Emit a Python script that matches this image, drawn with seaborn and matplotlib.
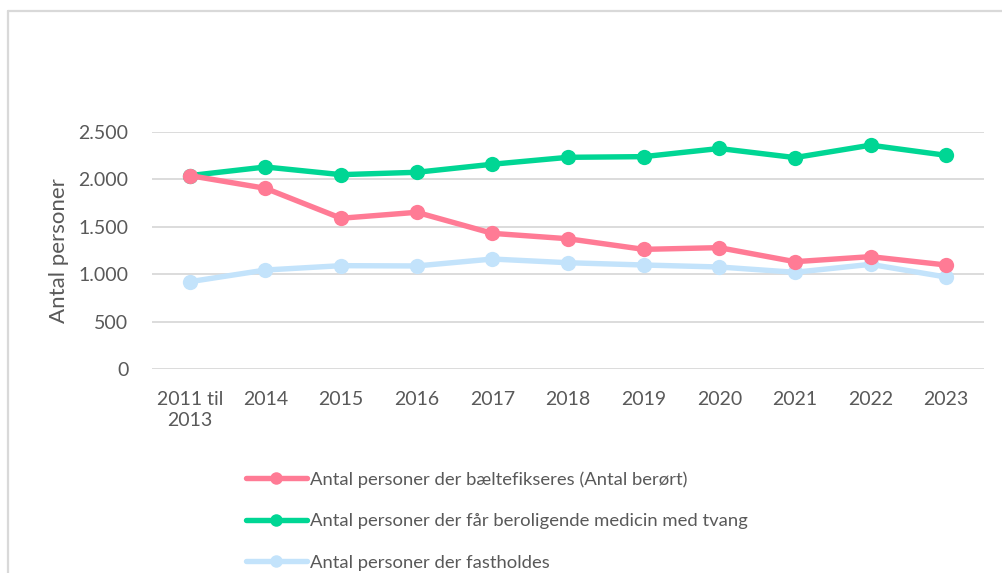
import matplotlib
matplotlib.use("Agg")
import numpy as np
import pandas as pd
import matplotlib.pyplot as plt
from matplotlib.lines import Line2D
from matplotlib.ticker import FuncFormatter, MultipleLocator
import seaborn as sns

# data
years = ["2011 til\n2013", "2014", "2015", "2016", "2017", "2018",
         "2019", "2020", "2021", "2022", "2023"]
baelte = [2040, 1906, 1590, 1653, 1431, 1374, 1262, 1280, 1132, 1185, 1097]
medicin = [2040, 2131, 2050, 2075, 2160, 2233, 2240, 2326, 2230, 2361, 2254]
fasthold = [921, 1044, 1090, 1087, 1160, 1121, 1097, 1076, 1020, 1104, 970]

labels = [
    "Antal personer der bæltefikseres (Antal berørt)",
    "Antal personer der får beroligende medicin med tvang",
    "Antal personer der fastholdes",
]
colors = ["#FF7B95", "#00D694", "#C3E3FB"]

sns.set_theme(style="white")
plt.rcParams["font.family"] = ["Lato", "DejaVu Sans"]
text_color = "#595959"

df = pd.DataFrame({
    "year": years * 3,
    "antal": baelte + medicin + fasthold,
    "serie": [labels[0]] * 11 + [labels[1]] * 11 + [labels[2]] * 11,
})
df["pos"] = list(range(len(years))) * 3

fig = plt.figure(figsize=(10.02, 5.73), dpi=100)
ax = fig.add_axes([152 / 1002, 1 - 369 / 573, 832 / 1002, 237 / 573])

# draw light blue first so it sits under the others like in the original
for lab, col in zip(labels[::-1], colors[::-1]):
    sub = df[df["serie"] == lab]
    sns.lineplot(data=sub, x="pos", y="antal", color=col, linewidth=3.9,
                 marker="o", markersize=11, markeredgewidth=0, label=lab,
                 ax=ax, legend=False, zorder=3)

ax.set_xlim(-0.5, len(years) - 0.5)
ax.set_ylim(0, 2500)
ax.yaxis.set_major_locator(MultipleLocator(500))
ax.yaxis.set_major_formatter(FuncFormatter(lambda v, p: f"{int(v):,}".replace(",", ".")))
ax.set_xticks(range(len(years)))
ax.set_xticklabels(years, fontsize=14, color=text_color, linespacing=1.25)
ax.tick_params(axis="y", labelsize=14, labelcolor=text_color, pad=11)
ax.tick_params(axis="x", pad=10)
ax.grid(axis="y", color="#D9D9D9", linewidth=1.3)
ax.set_axisbelow(True)
for s in ax.spines.values():
    s.set_visible(False)
ax.set_xlabel("")
ax.set_ylabel("Antal personer", fontsize=16, color=text_color, labelpad=7)

handles = [Line2D([], [], color=c, linewidth=3.9, marker="o", markersize=9,
                  markeredgewidth=0) for c in colors]
fig.legend(handles, labels, loc="upper left",
           bbox_to_anchor=(246 / 1002, 1 - 471 / 573), frameon=False,
           fontsize=13.3, labelcolor=text_color, handlelength=3.3,
           handletextpad=0.15, labelspacing=1.38, borderpad=0, borderaxespad=0)

# chart area border (left and top edges visible)
fig.add_artist(Line2D([8 / 1002, 8 / 1002], [0, 1 - 11 / 573],
                      transform=fig.transFigure, color="#D9D9D9", linewidth=1.6))
fig.add_artist(Line2D([8 / 1002, 1], [1 - 11 / 573, 1 - 11 / 573],
                      transform=fig.transFigure, color="#D9D9D9", linewidth=1.6))

fig.savefig("out.png", dpi=100)
